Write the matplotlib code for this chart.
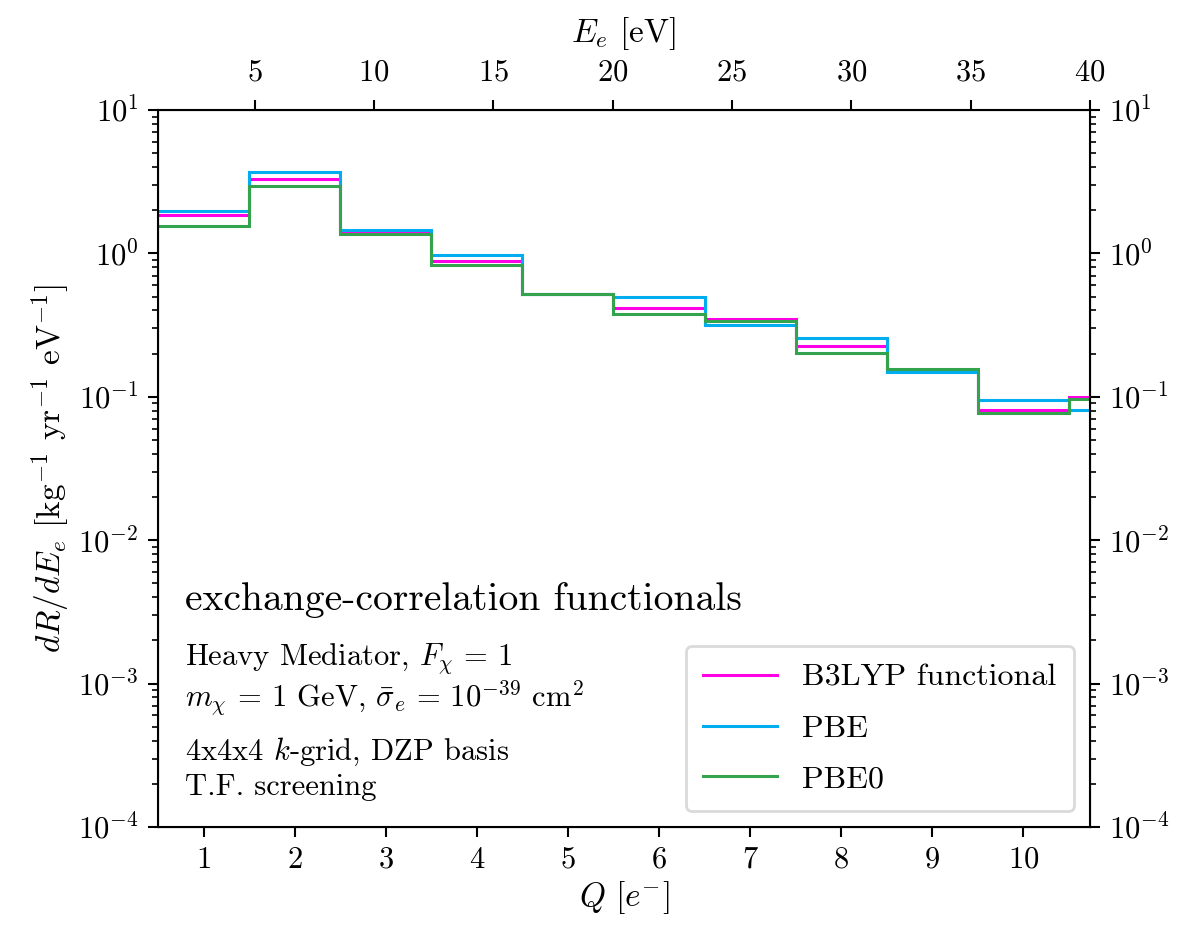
import numpy as np
import matplotlib
matplotlib.use('Agg')
import matplotlib.pyplot as plt

plt.rcParams['font.family'] = 'serif'
plt.rcParams['font.serif'] = ['cmr10']
plt.rcParams['mathtext.fontset'] = 'cm'
plt.rcParams['axes.formatter.use_mathtext'] = True
plt.rcParams['axes.unicode_minus'] = False

# bin edges in Q (electrons), one value per bin
q_edges = [0.5, 1.5, 2.5, 3.5, 4.5, 5.5, 6.5, 7.5, 8.5, 9.5, 10.5, 11.5]
b3lyp = [1.85, 3.29, 1.43, 0.885, 0.52, 0.414, 0.349, 0.225, 0.152, 0.081, 0.099]
pbe = [1.99, 3.71, 1.46, 0.975, 0.52, 0.494, 0.315, 0.256, 0.150, 0.0946, 0.081]
pbe0 = [1.55, 2.94, 1.37, 0.826, 0.524, 0.376, 0.336, 0.203, 0.155, 0.0775, 0.0966]

q_ticks = [1, 2, 3, 4, 5, 6, 7, 8, 9, 10]
e_ticks = [5, 10, 15, 20, 25, 30, 35, 40]
q_lim = (0.5, 10.73)
e_lim = (0.953, 40)

fig = plt.figure(figsize=(11.84, 9.32), dpi=100)
ax = fig.add_axes([0.1334, 0.1127, 0.7872, 0.7693])

lw = 2.2
ax.stairs(b3lyp, q_edges, color='#ff00e6', lw=lw, label='B3LYP functional', baseline=None)
ax.stairs(pbe, q_edges, color='#00aef0', lw=lw, label='PBE', baseline=None)
ax.stairs(pbe0, q_edges, color='#33a34d', lw=lw, label='PBE0', baseline=None)

ax.set_yscale('log')
ax.set_ylim(1e-4, 1e1)
ax.set_xlim(*q_lim)
ax.set_xticks(q_ticks)
ax.set_xlabel(r'$Q\ [e^{-}]$', fontsize=24, labelpad=4)
ax.set_ylabel(r'$dR/dE_e$ [kg$^{-1}$ yr$^{-1}$ eV$^{-1}$]', fontsize=24)
ax.tick_params(axis='both', which='major', labelsize=22, length=7, width=1.5, pad=7)
ax.tick_params(axis='y', which='both', right=True, labelright=True)
ax.tick_params(axis='y', which='minor', length=4, width=1.2)
for s in ax.spines.values():
    s.set_linewidth(1.5)

top = ax.twiny()
top.set_xlim(*e_lim)
top.set_xticks(e_ticks)
top.set_xlabel(r'$E_e$ [eV]', fontsize=24, labelpad=12)
top.tick_params(axis='x', labelsize=22, length=7, width=1.5, pad=10)

ax.text(0.029, 0.303, 'exchange-correlation functionals', transform=ax.transAxes,
        fontsize=28.5, va='baseline')
ax.text(0.029, 0.226, r'Heavy Mediator, $F_\chi\,=\,1$', transform=ax.transAxes,
        fontsize=22, va='baseline')
ax.text(0.029, 0.168, r'$m_\chi$ = 1 GeV, $\bar{\sigma}_e\,=\,10^{-39}$ cm$^2$',
        transform=ax.transAxes, fontsize=22, va='baseline')
ax.text(0.029, 0.093, r'4x4x4 $k$-grid, DZP basis', transform=ax.transAxes,
        fontsize=22, va='baseline')
ax.text(0.029, 0.045, 'T.F. screening', transform=ax.transAxes,
        fontsize=22, va='baseline')

leg = ax.legend(loc='lower right', fontsize=23, frameon=True, labelspacing=0.7,
                handlelength=2.3, borderpad=0.55, borderaxespad=0.5)
leg.get_frame().set_linewidth(2)
leg.get_frame().set_edgecolor('0.82')

fig.savefig('out.png', dpi=100)
